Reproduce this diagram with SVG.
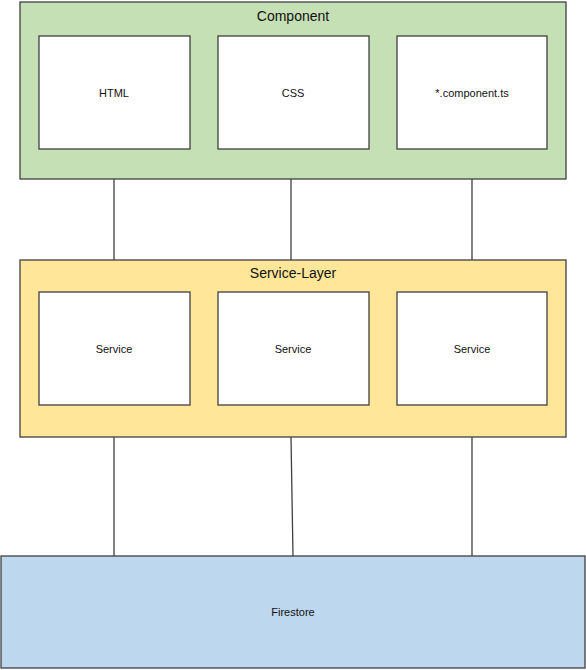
<svg xmlns="http://www.w3.org/2000/svg" width="586" height="670" viewBox="0 0 586 670">
<style>
.c{stroke:#404040;stroke-width:1.3}
.in{fill:#fff;stroke:#404040;stroke-width:1.3}
.t{font-family:"Liberation Sans",Arial,sans-serif;fill:#111;text-anchor:middle}
.tt{font-size:14px}
.ts{font-size:11px}
line{stroke:#404040;stroke-width:1.3}
</style>
<rect width="586" height="670" fill="#fff"/>
<g id="connectors">
<line x1="114" y1="179" x2="114" y2="260"/>
<line x1="291" y1="179" x2="291" y2="260"/>
<line x1="472" y1="179" x2="472" y2="260"/>
<line x1="114" y1="437" x2="114" y2="556"/>
<line x1="291" y1="437" x2="293" y2="556"/>
<line x1="472" y1="437" x2="472" y2="556"/>
</g>
<g id="component">
<rect x="20" y="2" width="546" height="177" fill="#C5E0B4" class="c"/>
<text x="293" y="21" class="t tt">Component</text>
</g>
<g id="html">
<rect x="39" y="36" width="151" height="113" class="in"/>
<text x="114" y="97" class="t ts">HTML</text>
</g>
<g id="css">
<rect x="218" y="36" width="151" height="113" class="in"/>
<text x="293" y="97" class="t ts">CSS</text>
</g>
<g id="componentts">
<rect x="397" y="36" width="150" height="113" class="in"/>
<text x="472" y="97" class="t ts">*.component.ts</text>
</g>
<g id="servicelayer">
<rect x="20" y="260" width="546" height="177" fill="#FFE699" class="c"/>
<text x="293" y="278" class="t tt">Service-Layer</text>
</g>
<g id="service1">
<rect x="39" y="292" width="151" height="113" class="in"/>
<text x="114" y="353" class="t ts">Service</text>
</g>
<g id="service2">
<rect x="218" y="292" width="151" height="113" class="in"/>
<text x="293" y="353" class="t ts">Service</text>
</g>
<g id="service3">
<rect x="397" y="292" width="150" height="113" class="in"/>
<text x="472" y="353" class="t ts">Service</text>
</g>
<g id="firestore">
<rect x="1" y="556" width="584" height="112" fill="#BDD7EE" class="c"/>
<text x="293" y="616" class="t ts">Firestore</text>
</g>
</svg>
